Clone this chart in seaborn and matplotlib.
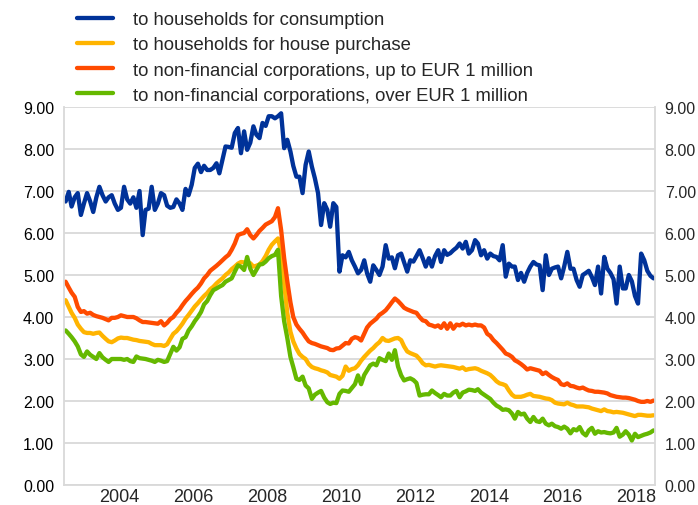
import pandas as pd
import matplotlib
matplotlib.use("Agg")
import matplotlib.pyplot as plt
import matplotlib.ticker as mticker
import seaborn as sns

# monthly observations, Jan 2003 - Dec 2018
dates = pd.date_range("2003-01-01", periods=192, freq="MS")

consumption = [
    6.75, 6.98, 6.63, 6.85, 6.95, 6.43, 6.70, 6.95, 6.75, 6.50, 6.85, 7.10,
    6.90, 6.75, 6.85, 6.90, 6.70, 6.55, 6.60, 7.10, 6.80, 6.70, 6.85, 6.60,
    7.00, 5.95, 6.55, 6.58, 7.10, 6.55, 6.70, 6.95, 6.90, 6.65, 6.60, 6.62,
    6.80, 6.70, 6.55, 7.05, 6.90, 7.15, 7.55, 7.65, 7.45, 7.60, 7.50, 7.50,
    7.55, 7.66, 7.42, 7.75, 8.06, 8.05, 8.03, 8.38, 8.50, 7.90, 8.42, 7.98,
    8.15, 8.54, 8.34, 8.26, 8.62, 8.55, 8.78, 8.78, 8.73, 8.78, 8.85, 8.02,
    8.22, 7.94, 7.60, 7.34, 7.34, 6.95, 7.62, 7.94, 7.58, 7.30, 6.95, 6.19,
    6.71, 6.55, 6.15, 6.71, 6.62, 5.08, 5.47, 5.42, 5.55, 5.35, 5.20, 5.04,
    5.12, 5.35, 5.04, 4.84, 5.23, 5.12, 5.00, 5.20, 5.71, 5.39, 5.42, 5.16,
    5.47, 5.51, 5.30, 5.08, 5.35, 5.32, 5.45, 5.59, 5.40, 5.20, 5.40, 5.20,
    5.45, 5.59, 5.31, 5.59, 5.48, 5.52, 5.59, 5.65, 5.75, 5.63, 5.79, 5.51,
    5.59, 5.83, 5.75, 5.47, 5.59, 5.39, 5.51, 5.45, 5.43, 5.35, 5.71, 4.96,
    5.27, 5.20, 5.20, 4.88, 5.05, 4.84, 5.05, 5.20, 5.31, 5.25, 5.23, 4.64,
    5.47, 5.00, 5.15, 5.18, 5.20, 4.92, 5.20, 5.55, 5.15, 5.15, 4.88, 4.72,
    5.00, 5.05, 5.10, 4.95, 4.76, 5.20, 4.56, 5.43, 5.15, 5.05, 4.90, 4.32,
    5.20, 4.68, 4.68, 5.00, 4.85, 4.50, 4.32, 5.51, 5.35, 5.10, 4.98, 4.92,
]

house_purchase = [
    4.40, 4.24, 4.10, 3.98, 3.82, 3.72, 3.64, 3.62, 3.62, 3.60, 3.62, 3.63,
    3.55, 3.48, 3.42, 3.40, 3.44, 3.49, 3.51, 3.50, 3.50, 3.48, 3.46, 3.45,
    3.43, 3.42, 3.41, 3.40, 3.36, 3.33, 3.33, 3.33, 3.31, 3.35, 3.48, 3.60,
    3.66, 3.75, 3.84, 3.96, 4.05, 4.15, 4.25, 4.33, 4.42, 4.50, 4.57, 4.66,
    4.72, 4.80, 4.86, 4.92, 5.00, 5.06, 5.14, 5.20, 5.27, 5.31, 5.30, 5.27,
    5.28, 5.20, 5.22, 5.25, 5.33, 5.45, 5.60, 5.72, 5.80, 5.87, 5.55, 4.80,
    4.10, 3.65, 3.42, 3.25, 3.12, 3.05, 3.00, 2.88, 2.81, 2.78, 2.76, 2.73,
    2.71, 2.68, 2.62, 2.60, 2.58, 2.53, 2.60, 2.82, 2.72, 2.76, 2.78, 2.85,
    2.96, 3.05, 3.12, 3.20, 3.26, 3.34, 3.40, 3.50, 3.44, 3.43, 3.46, 3.49,
    3.50, 3.45, 3.30, 3.18, 3.14, 3.11, 3.08, 3.00, 2.90, 2.85, 2.86, 2.84,
    2.82, 2.84, 2.85, 2.84, 2.83, 2.82, 2.81, 2.79, 2.77, 2.80, 2.74, 2.76,
    2.77, 2.78, 2.76, 2.72, 2.69, 2.66, 2.62, 2.55, 2.47, 2.42, 2.40, 2.37,
    2.25, 2.15, 2.10, 2.10, 2.10, 2.12, 2.15, 2.17, 2.12, 2.11, 2.10, 2.08,
    2.06, 2.05, 2.02, 1.96, 1.94, 1.93, 1.92, 1.96, 1.92, 1.90, 1.87, 1.87,
    1.87, 1.86, 1.85, 1.82, 1.80, 1.78, 1.76, 1.80, 1.76, 1.75, 1.73, 1.74,
    1.73, 1.72, 1.70, 1.68, 1.66, 1.64, 1.67, 1.67, 1.66, 1.65, 1.65, 1.66,
]

nfc_small = [
    4.84, 4.70, 4.58, 4.48, 4.24, 4.12, 4.14, 4.08, 4.10, 4.05, 4.02, 4.00,
    3.98, 3.95, 3.92, 3.98, 3.98, 4.00, 4.04, 4.02, 4.00, 4.00, 4.00, 3.97,
    3.92, 3.88, 3.88, 3.87, 3.86, 3.85, 3.84, 3.90, 3.80, 3.86, 3.95, 4.00,
    4.10, 4.18, 4.28, 4.38, 4.46, 4.55, 4.63, 4.70, 4.80, 4.92, 5.00, 5.10,
    5.16, 5.22, 5.28, 5.35, 5.42, 5.48, 5.60, 5.75, 5.95, 5.98, 6.00, 6.09,
    5.95, 5.87, 5.95, 6.05, 6.12, 6.20, 6.24, 6.28, 6.38, 6.59, 6.07, 5.40,
    4.85, 4.35, 4.00, 3.82, 3.72, 3.63, 3.52, 3.42, 3.38, 3.36, 3.33, 3.30,
    3.28, 3.26, 3.22, 3.21, 3.25, 3.26, 3.32, 3.38, 3.37, 3.48, 3.52, 3.50,
    3.44, 3.60, 3.75, 3.84, 3.90, 3.96, 4.05, 4.10, 4.16, 4.25, 4.35, 4.44,
    4.38, 4.30, 4.22, 4.18, 4.15, 4.12, 4.10, 4.00, 3.92, 3.90, 3.82, 3.80,
    3.77, 3.80, 3.74, 3.85, 3.72, 3.85, 3.72, 3.82, 3.80, 3.84, 3.80, 3.82,
    3.80, 3.82, 3.80, 3.80, 3.75, 3.60, 3.55, 3.45, 3.38, 3.30, 3.22, 3.13,
    3.10, 3.05, 2.97, 2.93, 2.88, 2.82, 2.75, 2.78, 2.76, 2.74, 2.72, 2.64,
    2.68, 2.62, 2.57, 2.53, 2.50, 2.40, 2.38, 2.42, 2.36, 2.35, 2.32, 2.30,
    2.32, 2.28, 2.25, 2.24, 2.22, 2.22, 2.21, 2.20, 2.18, 2.14, 2.12, 2.10,
    2.09, 2.08, 2.08, 2.07, 2.05, 2.03, 2.00, 1.98, 1.98, 2.00, 1.98, 2.01,
]

nfc_large = [
    3.68, 3.60, 3.52, 3.42, 3.30, 3.11, 3.05, 3.18, 3.10, 3.05, 3.00, 3.14,
    3.04, 2.98, 2.93, 3.00, 3.00, 3.00, 3.00, 2.98, 3.00, 2.95, 2.93, 3.06,
    3.02, 3.01, 3.00, 2.98, 2.96, 2.93, 2.98, 2.96, 2.93, 2.95, 3.12, 3.29,
    3.20, 3.28, 3.48, 3.52, 3.68, 3.78, 3.90, 4.00, 4.12, 4.30, 4.38, 4.52,
    4.64, 4.68, 4.72, 4.76, 4.84, 4.88, 4.92, 5.08, 5.23, 5.20, 5.12, 5.43,
    5.15, 5.00, 5.12, 5.25, 5.26, 5.32, 5.40, 5.45, 5.48, 5.60, 4.50, 3.90,
    3.50, 3.05, 2.81, 2.53, 2.50, 2.58, 2.37, 2.30, 2.05, 2.15, 2.20, 2.24,
    2.08, 1.97, 1.93, 1.96, 1.95, 2.17, 2.25, 2.24, 2.22, 2.31, 2.40, 2.61,
    2.40, 2.62, 2.73, 2.85, 2.89, 2.85, 3.02, 2.98, 2.95, 3.13, 2.98, 3.21,
    2.82, 2.61, 2.49, 2.52, 2.54, 2.50, 2.43, 2.13, 2.15, 2.16, 2.16, 2.25,
    2.19, 2.14, 2.09, 2.17, 2.13, 2.13, 2.20, 2.24, 2.09, 2.20, 2.23, 2.27,
    2.26, 2.24, 2.28, 2.20, 2.15, 2.10, 2.05, 1.96, 1.89, 1.85, 1.79, 1.80,
    1.78, 1.70, 1.58, 1.74, 1.68, 1.70, 1.58, 1.50, 1.62, 1.52, 1.50, 1.58,
    1.46, 1.42, 1.46, 1.40, 1.38, 1.34, 1.39, 1.34, 1.23, 1.33, 1.30, 1.38,
    1.24, 1.18, 1.30, 1.36, 1.22, 1.28, 1.25, 1.26, 1.24, 1.23, 1.25, 1.36,
    1.15, 1.20, 1.28, 1.20, 1.06, 1.22, 1.14, 1.17, 1.20, 1.22, 1.25, 1.30,
]

series_names = [
    "to households for consumption",
    "to households for house purchase",
    "to non-financial corporations, up to EUR 1 million",
    "to non-financial corporations, over EUR 1 million",
]
colors = ["#003299", "#FFB400", "#FF4B00", "#65B800"]
year_labels = ["2004", "2006", "2008", "2010", "2012", "2014", "2016", "2018"]

df = pd.DataFrame({
    "date": dates,
    series_names[0]: consumption,
    series_names[1]: house_purchase,
    series_names[2]: nfc_small,
    series_names[3]: nfc_large,
}).melt(id_vars="date", var_name="series", value_name="rate")

sns.set_style("white")
plt.rcParams["font.family"] = ["Liberation Sans", "DejaVu Sans"]

fig = plt.figure(figsize=(6.98, 5.06), dpi=100)
ax = fig.add_axes([64 / 698, 20 / 506, 591 / 698, 378 / 506])

sns.lineplot(data=df, x="date", y="rate", hue="series", hue_order=series_names,
             palette=colors, linewidth=3.1, ax=ax)

grid_c = "#D9D9D9"
ax.set_ylim(0, 9)
ax.set_yticks(range(10))
ax.yaxis.set_major_formatter(mticker.FormatStrFormatter("%.2f"))
ax.grid(axis="y", color=grid_c, linewidth=1.3)
ax.set_axisbelow(True)
ax.tick_params(axis="y", length=0, pad=7, labelsize=11.5, colors="#000000")

# x axis: separators every two years, year labels in between
ax.set_xlim(pd.Timestamp("2002-12-16"), pd.Timestamp("2018-12-16"))
sep = [pd.Timestamp(f"{2002 + 2 * k}-12-16") for k in range(9)]
lab_pos = [pd.Timestamp(f"{y}-06-16") for y in year_labels]
ax.set_xticks(lab_pos)
ax.set_xticklabels(year_labels)
ax.set_xticks(sep, minor=True)
ax.tick_params(axis="x", which="major", length=0, pad=2.5, labelsize=13)
ax.tick_params(axis="x", which="minor", length=5, width=1.2, color="#BFBFBF")
ax.set_xlabel("")
ax.set_ylabel("")

for s in ["left", "bottom", "right"]:
    ax.spines[s].set_color(grid_c)
    ax.spines[s].set_linewidth(1.3)
ax.spines["top"].set_visible(False)

ax2 = ax.twinx()
ax2.set_ylim(0, 9)
ax2.set_yticks(range(10))
ax2.yaxis.set_major_formatter(mticker.FormatStrFormatter("%.2f"))
ax2.tick_params(axis="y", length=0, pad=7, labelsize=11.5)
for s in ax2.spines.values():
    s.set_visible(False)

sns.move_legend(ax, "upper left", bbox_to_anchor=(77 / 698, 1 - 12 / 506),
                bbox_transform=fig.transFigure, frameon=False, title=None,
                fontsize=13.3, handlelength=1.95, handletextpad=1.08,
                labelspacing=0.45, borderpad=0, borderaxespad=0)

fig.savefig("out.png", dpi=100)
